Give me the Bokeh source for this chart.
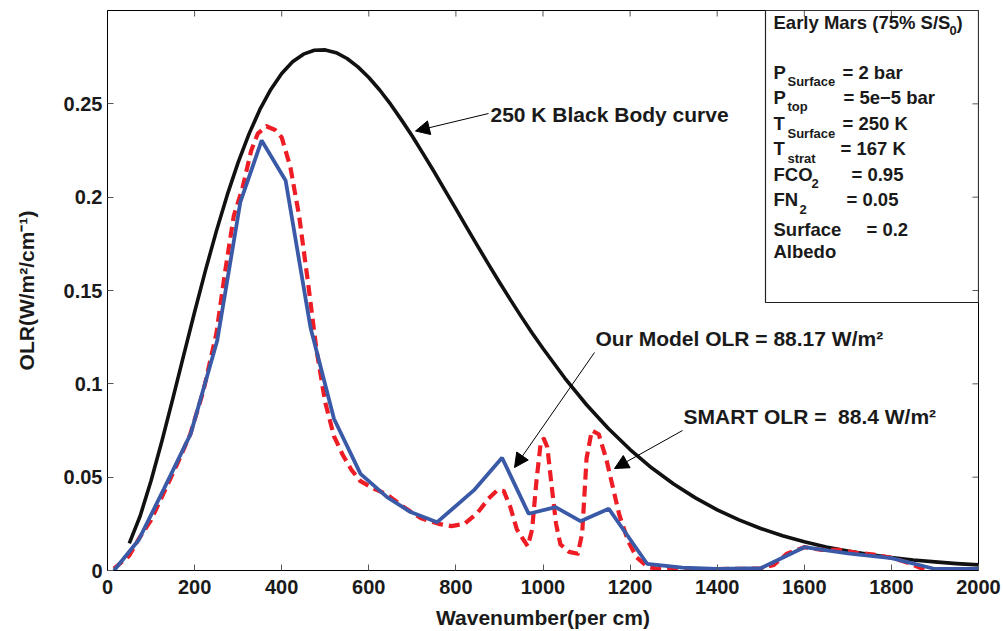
from bokeh.plotting import figure
from bokeh.models import Arrow, NormalHead, Range1d, FixedTicker
from bokeh.core.properties import value
from bokeh.embed import file_html
from bokeh.resources import INLINE

# ---------------- data ----------------
# 250 K black body spectral exitance (W m^-2 / cm^-1)
bb_wavenumber = [50, 75, 100, 125, 150, 175, 200, 225, 250, 275, 300, 325, 350, 375, 400,
                 425, 450, 475, 500, 525, 550, 575, 600, 625, 650, 675, 700, 725, 750,
                 775, 800, 825, 850, 875, 900, 925, 950, 975, 1000, 1050, 1100, 1150,
                 1200, 1250, 1300, 1350, 1400, 1450, 1500, 1550, 1600, 1650, 1700, 1750,
                 1800, 1850, 1900, 1950, 2000]
bb_olr = [0.0145, 0.0292, 0.0481, 0.0694, 0.0921, 0.1154, 0.1385, 0.1608, 0.1818, 0.2012,
          0.2186, 0.2339, 0.2470, 0.2577, 0.2662, 0.2725, 0.2766, 0.2787, 0.2789, 0.2774,
          0.2743, 0.2698, 0.2641, 0.2574, 0.2498, 0.2414, 0.2326, 0.2232, 0.2136, 0.2036,
          0.1937, 0.1837, 0.1738, 0.1640, 0.1544, 0.1451, 0.1360, 0.1272, 0.1189, 0.1031,
          0.0888, 0.0761, 0.0648, 0.0549, 0.0463, 0.0389, 0.0325, 0.0271, 0.0225, 0.0186,
          0.0154, 0.0126, 0.0104, 0.0085, 0.0069, 0.0056, 0.0046, 0.0037, 0.0030]

# our band model OLR spectrum
model_wavenumber = [15, 72, 129, 191, 252, 305, 354, 409, 466, 520, 581, 642, 696, 757,
                    841, 906, 967, 1029, 1086, 1151, 1239, 1320, 1400, 1500, 1600, 1700,
                    1800, 1900, 2000]
model_olr = [0.0, 0.0165, 0.0435, 0.0732, 0.1232, 0.1973, 0.2304, 0.2089, 0.1303, 0.0813,
             0.0518, 0.0393, 0.0313, 0.0259, 0.0429, 0.0604, 0.0304, 0.0339, 0.0264,
             0.0331, 0.0036, 0.0015, 0.0008, 0.0012, 0.0125, 0.0092, 0.0066, 0.0008, 0.0008]

# SMART line-by-line OLR spectrum
smart_wavenumber = [15, 50, 72, 100, 130, 160, 190, 220, 250, 270, 290, 310, 330, 345, 365,
                    385, 400, 420, 440, 460, 480, 500, 520, 540, 560, 580, 610, 640, 680,
                    720, 760, 790, 820, 850, 875, 895, 910, 925, 940, 955, 965, 975, 985,
                    995, 1002, 1010, 1020, 1030, 1040, 1060, 1080, 1090, 1100, 1112, 1128,
                    1145, 1160, 1175, 1195, 1215, 1240, 1260, 1300, 1400, 1500, 1530, 1560,
                    1600, 1640, 1680, 1720, 1760, 1800, 1840, 1870, 1890]
smart_olr = [0.001, 0.008, 0.017, 0.027, 0.042, 0.057, 0.073, 0.096, 0.127, 0.160, 0.190,
             0.205, 0.225, 0.234, 0.238, 0.236, 0.232, 0.216, 0.190, 0.155, 0.118, 0.090,
             0.072, 0.062, 0.054, 0.048, 0.044, 0.041, 0.034, 0.028, 0.025, 0.0238, 0.025,
             0.031, 0.0385, 0.043, 0.0425, 0.034, 0.022, 0.0165, 0.013, 0.022, 0.048, 0.069,
             0.0705, 0.066, 0.045, 0.025, 0.014, 0.010, 0.009, 0.020, 0.060, 0.075, 0.073,
             0.060, 0.045, 0.030, 0.016, 0.007, 0.002, 0.001, 0.0008, 0.0008, 0.001, 0.003,
             0.009, 0.0125, 0.011, 0.011, 0.0095, 0.0085, 0.0068, 0.004, 0.001, 0.0]

x_ticks = [0, 200, 400, 600, 800, 1000, 1200, 1400, 1600, 1800, 2000]
y_ticks = [0, 0.05, 0.1, 0.15, 0.2, 0.25]
y_tick_labels = ["0", "0.05", "0.1", "0.15", "0.2", "0.25"]

x_label = "Wavenumber(per cm)"
y_label = "OLR(W/m\u00b2/cm\u207b\u00b9)"

bb_note = "250 K Black Body curve"
model_note = "Our Model OLR = 88.17 W/m\u00b2"
smart_note = "SMART OLR = \u00a088.4 W/m\u00b2"

box_title = "Early Mars (75% S/S"
box_title_sub = "0"
param_names = ["P", "P", "T", "T", "FCO", "FN", "Surface", "Albedo"]
param_subs = ["Surface", "top", "Surface", "strat", "2", "2", "", ""]
param_values = ["= 2 bar", "= 5e\u22125 bar", "= 250 K", "= 167 K", "= 0.95", "= 0.05", "= 0.2", ""]

# ---------------- layout ----------------
W, H = 1003, 631
FL, FR, FT, FB = 107, 978, 10, 570       # frame edges in canvas pixels
XMAX, YMAX = 2000, 0.3
TICK = 6                                 # inward tick length, px
TICK_COLOR = "#555555"
FONT_NAME = "Liberation Sans"
FONT = value(FONT_NAME)


def dx(px):
    return (px - FL) / (FR - FL) * XMAX


def dy(py):
    return (FB - py) / (FB - FT) * YMAX


p = figure(width=W, height=H, x_range=Range1d(0, XMAX), y_range=Range1d(0, YMAX),
           output_backend="svg", toolbar_location=None,
           min_border_left=FL, min_border_right=W - FR,
           min_border_top=FT, min_border_bottom=H - FB)
p.grid.visible = False
p.outline_line_color = "black"
p.outline_line_width = 1
p.background_fill_color = "white"
p.border_fill_color = "white"

for ax in (p.xaxis[0], p.yaxis[0]):
    ax.major_tick_in = TICK
    ax.major_tick_out = 0
    ax.minor_tick_line_color = None
    ax.major_tick_line_color = TICK_COLOR
    ax.axis_line_color = "black"
    ax.major_label_text_font = FONT_NAME
    ax.major_label_text_font_style = "bold"
    ax.major_label_text_font_size = "20px"
    ax.major_label_text_color = "#1a1a1a"
    ax.axis_label_text_font = FONT_NAME
    ax.axis_label_text_font_style = "bold"
    ax.axis_label_text_font_size = "21px"
    ax.axis_label_text_color = "#1a1a1a"

p.xaxis[0].ticker = FixedTicker(ticks=x_ticks)
p.yaxis[0].ticker = FixedTicker(ticks=y_ticks)
p.yaxis[0].major_label_overrides = dict(zip(y_ticks, y_tick_labels))
p.xaxis[0].axis_label = x_label
p.yaxis[0].axis_label = y_label
p.xaxis[0].major_label_standoff = 9
p.xaxis[0].axis_label_standoff = 9
p.yaxis[0].major_label_standoff = 5
p.yaxis[0].axis_label_standoff = 23

# curves
p.line(bb_wavenumber, bb_olr, line_color="#111111", line_width=3.6, line_join="round")
p.line(smart_wavenumber, smart_olr, line_color="#ee1d25", line_width=4.2,
       line_dash="11 6", line_join="round")
p.line(model_wavenumber, model_olr, line_color="#3a5aa8", line_width=3.8)

# parameter box
p.quad(left=[dx(765)], right=[XMAX], bottom=[dy(302)], top=[YMAX],
       fill_color="white", line_color="#222222", line_width=1.2)

# inward ticks on the top and right edges of the box frame
inner_x = [t for t in x_ticks if 0 < t < XMAX]
inner_y = [t for t in y_ticks if 0 < t < YMAX]
p.segment(x0=inner_x, x1=inner_x, y0=[YMAX] * len(inner_x), y1=[dy(FT + TICK)] * len(inner_x),
          line_color=TICK_COLOR, line_width=1)
p.segment(x0=[XMAX] * len(inner_y), x1=[dx(FR - TICK)] * len(inner_y), y0=inner_y, y1=inner_y,
          line_color=TICK_COLOR, line_width=1)

txt = dict(text_font=FONT, text_font_style="bold", text_color="#1a1a1a",
           text_baseline="middle", text_align="left")

BOX_X = 773
p.text(x=[dx(BOX_X)], y=[dy(22)], text=[box_title], text_font_size="18.5px", **txt)
p.text(x=[dx(949)], y=[dy(30)], text=[box_title_sub], text_font_size="13px", **txt)
p.text(x=[dx(956)], y=[dy(22)], text=[")"], text_font_size="18.5px", **txt)

row_y = [72, 97, 123, 148, 174, 199, 229, 251]
sub_x = [787, 787, 787, 787, 811, 799, 0, 0]
sub_dy = [9, 9, 10, 10, 9, 10, 0, 0]
val_x = [842, 843, 842, 840, 851, 846, 866, 0]

names_x, names_y = [], []
subs_t, subs_x, subs_y = [], [], []
vals_t, vals_x, vals_y = [], [], []
for i, name in enumerate(param_names):
    names_x.append(dx(BOX_X))
    names_y.append(dy(row_y[i]))
    if param_subs[i]:
        subs_t.append(param_subs[i])
        subs_x.append(dx(sub_x[i]))
        subs_y.append(dy(row_y[i] + sub_dy[i]))
    if param_values[i]:
        vals_t.append(param_values[i])
        vals_x.append(dx(val_x[i]))
        vals_y.append(dy(row_y[i]))

p.text(x=names_x, y=names_y, text=param_names, text_font_size="18.5px", **txt)
p.text(x=subs_x, y=subs_y, text=subs_t, text_font_size="13px", **txt)
p.text(x=vals_x, y=vals_y, text=vals_t, text_font_size="18.5px", **txt)

# annotations with arrows
p.text(x=[dx(490)], y=[dy(114)], text=[bb_note], text_font_size="21px", **txt)
p.text(x=[dx(595)], y=[dy(338)], text=[model_note], text_font_size="21px", **txt)
p.text(x=[dx(683)], y=[dy(416)], text=[smart_note], text_font_size="21px", **txt)

for (x0, y0, x1, y1) in [(488, 113, 415, 130.5), (594, 352, 514, 467), (682, 430, 614, 468)]:
    p.add_layout(Arrow(end=NormalHead(size=14, fill_color="black", line_color="black",
                                      line_width=1),
                       x_start=dx(x0), y_start=dy(y0), x_end=dx(x1), y_end=dy(y1),
                       line_color="black", line_width=1))

open("out.html", "w").write(file_html(p, INLINE))
